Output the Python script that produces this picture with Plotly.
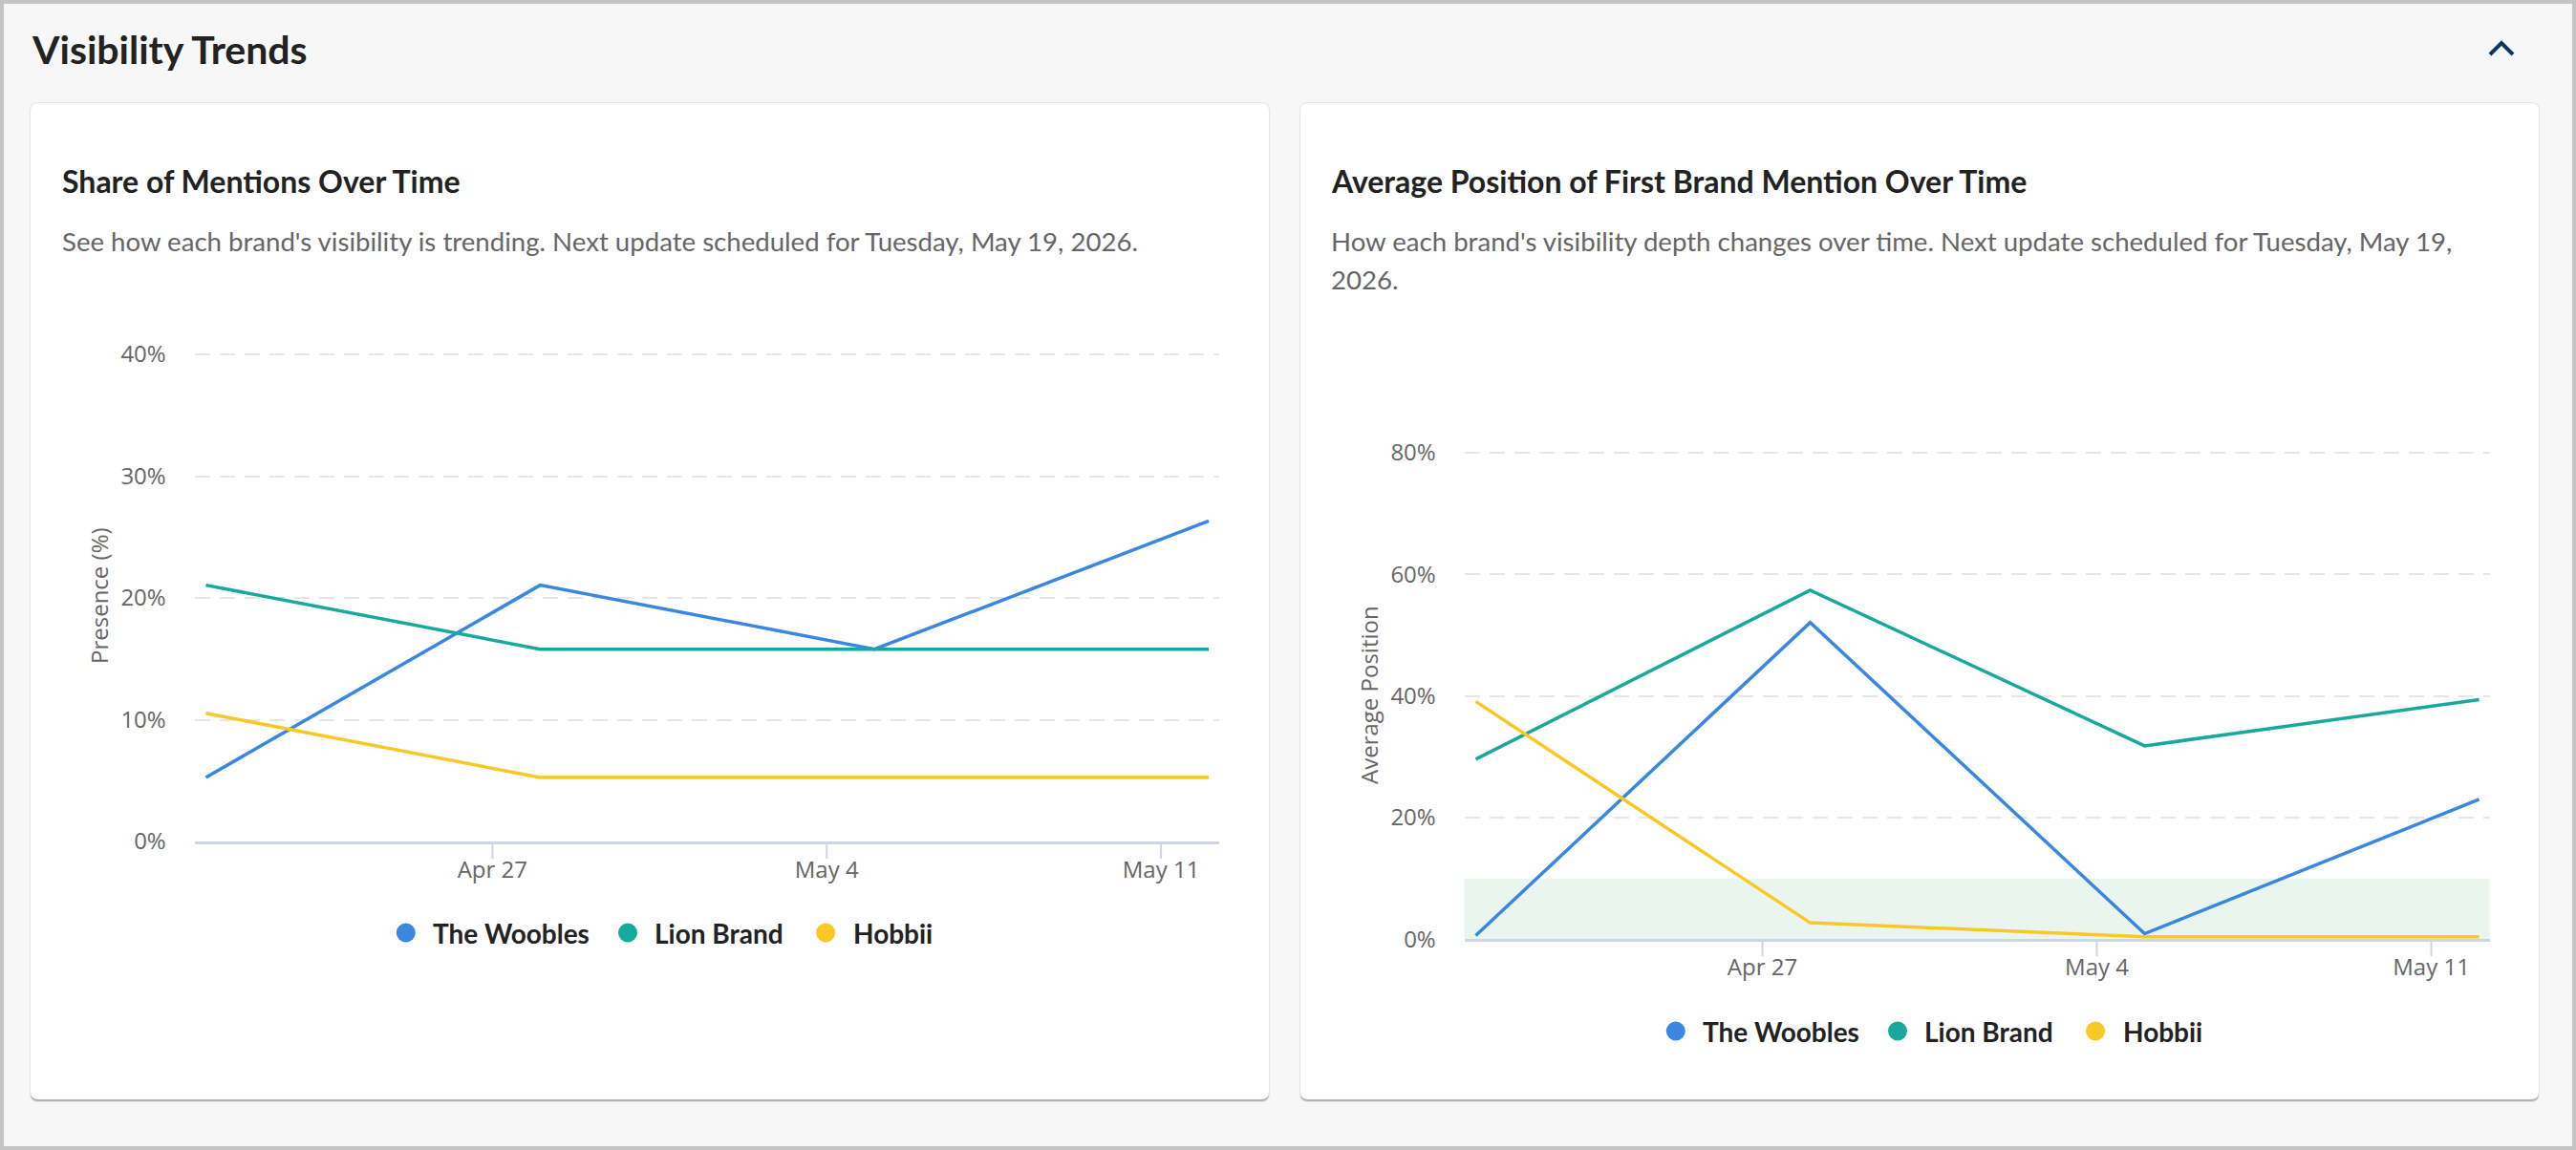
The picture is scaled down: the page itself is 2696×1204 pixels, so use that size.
import plotly.graph_objects as go

W, H = 2696, 1204

# ---------------- data ----------------
dates = ["2026-04-21", "2026-04-28", "2026-05-05", "2026-05-12"]
brands = ["The Woobles", "Lion Brand", "Hobbii"]
colors = ["#3a87e2", "#19a99c", "#f8c824"]

share_woobles = [5.26, 21.05, 15.79, 26.32]
share_lion = [21.05, 15.79, 15.79, 15.79]
share_hobbii = [10.53, 5.26, 5.26, 5.26]

pos_woobles = [0.6, 52.1, 0.9, 23.0]
pos_lion = [29.6, 57.4, 31.8, 39.4]
pos_hobbii = [39.1, 2.7, 0.4, 0.4]

x_tick_vals = ["2026-04-27", "2026-05-04", "2026-05-11"]
x_tick_text = ["Apr 27", "May 4", "May 11"]
share_ticks = [0, 10, 20, 30, 40]
share_tick_text = ["0%", "10%", "20%", "30%", "40%"]
pos_ticks = [0, 20, 40, 60, 80]
pos_tick_text = ["0%", "20%", "40%", "60%", "80%"]
good_zone = [0, 10]

page_title = "Visibility Trends"
card_titles = ["Share of Mentions Over Time", "Average Position of First Brand Mention Over Time"]
card_sub1 = "See how each brand's visibility is trending. Next update scheduled for Tuesday, May 19, 2026."
card_sub2 = ["How each brand's visibility depth changes over time. Next update scheduled for Tuesday, May 19,", "2026."]
y_titles = ["Presence (%)", "Average Position"]

# ---------------- helpers ----------------
def px(x):
    return x / W


def py(y):
    return 1 - y / H


def rounded_rect(x0, y0, x1, y1, r):
    p = [
        f"M {px(x0 + r)},{py(y0)}",
        f"L {px(x1 - r)},{py(y0)}",
        f"Q {px(x1)},{py(y0)} {px(x1)},{py(y0 + r)}",
        f"L {px(x1)},{py(y1 - r)}",
        f"Q {px(x1)},{py(y1)} {px(x1 - r)},{py(y1)}",
        f"L {px(x0 + r)},{py(y1)}",
        f"Q {px(x0)},{py(y1)} {px(x0)},{py(y1 - r)}",
        f"L {px(x0)},{py(y0 + r)}",
        f"Q {px(x0)},{py(y0)} {px(x0 + r)},{py(y0)}",
        "Z",
    ]
    return " ".join(p)


fig = go.Figure()

# traces
for name, vals, col in zip(brands, [share_woobles, share_lion, share_hobbii], colors):
    fig.add_trace(go.Scatter(x=dates, y=vals, mode="lines", name=name,
                             line=dict(color=col, width=3.5), xaxis="x", yaxis="y",
                             showlegend=False))
for name, vals, col in zip(brands, [pos_woobles, pos_lion, pos_hobbii], colors):
    fig.add_trace(go.Scatter(x=dates, y=vals, mode="lines", name=name,
                             line=dict(color=col, width=3.5), xaxis="x2", yaxis="y2",
                             showlegend=False))

# plot areas (pixels)
p1 = dict(l=203.5, r=1276, t=369, b=881)
p2 = dict(l=1532.5, r=2605.5, t=472, b=983.3)
xr = ["2026-04-20 18:15", "2026-05-12 05:15"]
TICK_LEN = 18

tickfont = dict(family="Open Sans", size=24, color="#666666")

def xaxis_cfg(p, anchor):
    return dict(domain=[px(p["l"]), px(p["r"])], type="date", range=xr,
                tickvals=x_tick_vals, ticktext=x_tick_text, ticks="outside",
                ticklen=6, tickwidth=2, tickcolor="rgba(0,0,0,0)", showline=True,
                linecolor="#ccd6eb", linewidth=2.5, showgrid=False, zeroline=False,
                tickfont=tickfont, fixedrange=True, automargin=False, anchor=anchor)


def yaxis_cfg(p, rng, tv, tt, anchor):
    return dict(domain=[py(p["b"]), py(p["t"])], range=rng, tickvals=tv, ticktext=tt,
                showgrid=True, gridcolor="#e6e6e6", gridwidth=2,
                griddash="16px,10px", zeroline=False, showline=False,
                ticks="outside", ticklen=24, tickcolor="rgba(0,0,0,0)",
                tickfont=tickfont, anchor=anchor, fixedrange=True, automargin=False)


shapes = []
# page background with border
shapes.append(dict(type="rect", xref="paper", yref="paper", x0=px(4), x1=px(W - 4),
                   y0=py(H - 4), y1=py(4), fillcolor="#f7f7f7", line_width=0, layer="below"))
cards = [(32, 108, 1328, 1151), (1361, 108, 2657, 1151)]
for (x0, y0, x1, y1) in cards:
    shapes.append(dict(type="path", xref="paper", yref="paper",
                       path=rounded_rect(x0 - 1, y0 - 1, x1 + 1, y1 + 3, 9),
                       fillcolor="rgba(0,0,0,0.07)", line_width=0, layer="below"))
    shapes.append(dict(type="path", xref="paper", yref="paper",
                       path=rounded_rect(x0, y0 + 1, x1, y1 + 2, 8),
                       fillcolor="rgba(0,0,0,0.22)", line_width=0, layer="below"))
    shapes.append(dict(type="path", xref="paper", yref="paper",
                       path=rounded_rect(x0, y0, x1, y1, 8),
                       fillcolor="#ffffff", line_width=0, layer="below"))
# chevron
shapes.append(dict(type="path", xref="paper", yref="paper",
                   path=f"M {px(2606)},{py(57)} L {px(2618)},{py(45)} L {px(2630)},{py(57)}",
                   line=dict(color="#0b3a5e", width=4), layer="above"))
# good zone band in chart 2
shapes.append(dict(type="rect", xref="x2 domain", yref="y2", x0=0, x1=1,
                   y0=good_zone[0], y1=good_zone[1], fillcolor="#ebf5ef",
                   line_width=0, layer="below"))
# x tick marks (drawn on the axis scale)
for xa, ya, p in [("x", "y domain", p1), ("x2", "y2 domain", p2)]:
    frac = TICK_LEN / (p["b"] - p["t"])
    for tv in x_tick_vals:
        shapes.append(dict(type="line", xref=xa, yref=ya, x0=tv, x1=tv, y0=0, y1=-frac,
                           line=dict(color="#ccd6eb", width=2), layer="above"))

annotations = []

def text(x, y, s, size, color, family="Lato", bold=False, xanchor="left", angle=0):
    annotations.append(dict(xref="paper", yref="paper", x=px(x), y=py(y),
                            text=f"<b>{s}</b>" if bold else s, showarrow=False,
                            xanchor=xanchor, yanchor="middle", textangle=angle,
                            font=dict(family=family, size=size, color=color)))

text(31, 51, page_title, 41, "#222222", bold=True)
text(62.5, 189.5, card_titles[0], 32, "#222222", bold=True)
text(1391, 189.5, card_titles[1], 32, "#222222", bold=True)
text(62.5, 252, card_sub1, 27.6, "#666666")
text(1391, 252, card_sub2[0], 27.6, "#666666")
text(1391, 292, card_sub2[1], 27.6, "#666666")
text(103, 624, y_titles[0], 24, "#666666", family="Open Sans", xanchor="center", angle=-90)
text(1432, 728, y_titles[1], 24, "#666666", family="Open Sans", xanchor="center", angle=-90)

# legends (manual)
legend_dots = [392.8, 625, 832.1]
legend_txt = [419.5, 651.6, 859.7]
for card_left, ly in [(32, 976.5), (1361, 1079.5)]:
    for name, col, dx, tx in zip(brands, colors, legend_dots, legend_txt):
        cx = card_left + dx
        shapes.append(dict(type="circle", xref="paper", yref="paper",
                           x0=px(cx - 10), x1=px(cx + 10), y0=py(ly + 10), y1=py(ly - 10),
                           fillcolor=col, line_width=0, layer="above"))
        text(card_left + tx - 1, ly, name, 28, "#222222", bold=True)

fig.update_layout(
    template="none",
    width=W, height=H, margin=dict(l=0, r=0, t=0, b=0, pad=0, autoexpand=False),
    paper_bgcolor="#c4c4c4", plot_bgcolor="rgba(0,0,0,0)",
    xaxis=xaxis_cfg(p1, "y"), yaxis=yaxis_cfg(p1, [0, 40.16], share_ticks, share_tick_text, "x"),
    xaxis2=xaxis_cfg(p2, "y2"), yaxis2=yaxis_cfg(p2, [0, 80.32], pos_ticks, pos_tick_text, "x2"),
    shapes=shapes, annotations=annotations, showlegend=False,
    hovermode=False,
)

fig.write_html("out.html", config={"displayModeBar": False})
